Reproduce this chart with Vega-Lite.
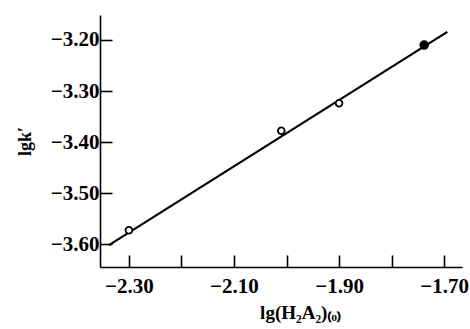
{
  "$schema": "https://vega.github.io/schema/vega-lite/v6.json",
  "autosize": "none",
  "width": 362,
  "height": 252,
  "padding": {"left": 100, "top": 15, "right": 8, "bottom": 62},
  "background": "white",
  "config": {
    "view": {"stroke": null},
    "axis": {
      "domainColor": "black",
      "domainWidth": 1.6,
      "tickColor": "black",
      "tickWidth": 1.6,
      "grid": false,
      "labelFont": "Liberation Serif",
      "labelFontWeight": "bold",
      "labelFontSize": 21,
      "labelColor": "black",
      "titleFont": "Liberation Serif",
      "titleFontWeight": "bold",
      "titleColor": "black"
    }
  },
  "datasets": {
    "fit": [
      {"x": -2.338, "y": -3.602},
      {"x": -1.694, "y": -3.184}
    ],
    "obs": [
      {"x": -2.30, "y": -3.573, "kind": "open"},
      {"x": -2.01, "y": -3.378, "kind": "open"},
      {"x": -1.90, "y": -3.324, "kind": "open"},
      {"x": -1.738, "y": -3.210, "kind": "filled"}
    ]
  },
  "layer": [
    {
      "data": {"name": "fit"},
      "mark": {"type": "line", "color": "black", "strokeWidth": 2.2},
      "encoding": {
        "x": {
          "field": "x", "type": "quantitative",
          "scale": {"domain": [-2.355, -1.666], "zero": false, "nice": false},
          "axis": {
            "title": "lg(H₂A₂)₍ₒ₎",
            "titleFontSize": 19,
            "titleX": 200,
            "titleY": 51,
            "titleAnchor": null,
            "titleAlign": "center",
            "titleBaseline": "alphabetic",
            "values": [-2.3, -2.2, -2.1, -2.0, -1.9, -1.8, -1.7],
            "labelExpr": "abs(round(datum.value*10)) % 2 == 1 ? format(datum.value, '.2f') : ''",
            "tickSize": -12,
            "labelPadding": 20,
            "labelBaseline": "top"
          }
        },
        "y": {
          "field": "y", "type": "quantitative",
          "scale": {"domain": [-3.645, -3.151], "zero": false, "nice": false},
          "axis": {
            "title": "lgk′",
            "titleFontSize": 18,
            "titleX": -75,
            "titleY": 126,
            "titleAngle": -90,
            "titleAlign": "center",
            "titleBaseline": "middle",
            "values": [-3.6, -3.5, -3.4, -3.3, -3.2],
            "format": ".2f",
            "tickSize": -12,
            "labelPadding": 13
          }
        }
      }
    },
    {
      "data": {"name": "obs"},
      "mark": {"type": "point", "strokeWidth": 1.8, "opacity": 1},
      "encoding": {
        "x": {"field": "x", "type": "quantitative"},
        "y": {"field": "y", "type": "quantitative"},
        "fill": {
          "field": "kind", "type": "nominal",
          "scale": {"domain": ["open", "filled"], "range": ["white", "black"]},
          "legend": null
        },
        "stroke": {"value": "black"},
        "size": {
          "field": "kind", "type": "nominal",
          "scale": {"domain": ["open", "filled"], "range": [45, 60]},
          "legend": null
        }
      }
    }
  ]
}
